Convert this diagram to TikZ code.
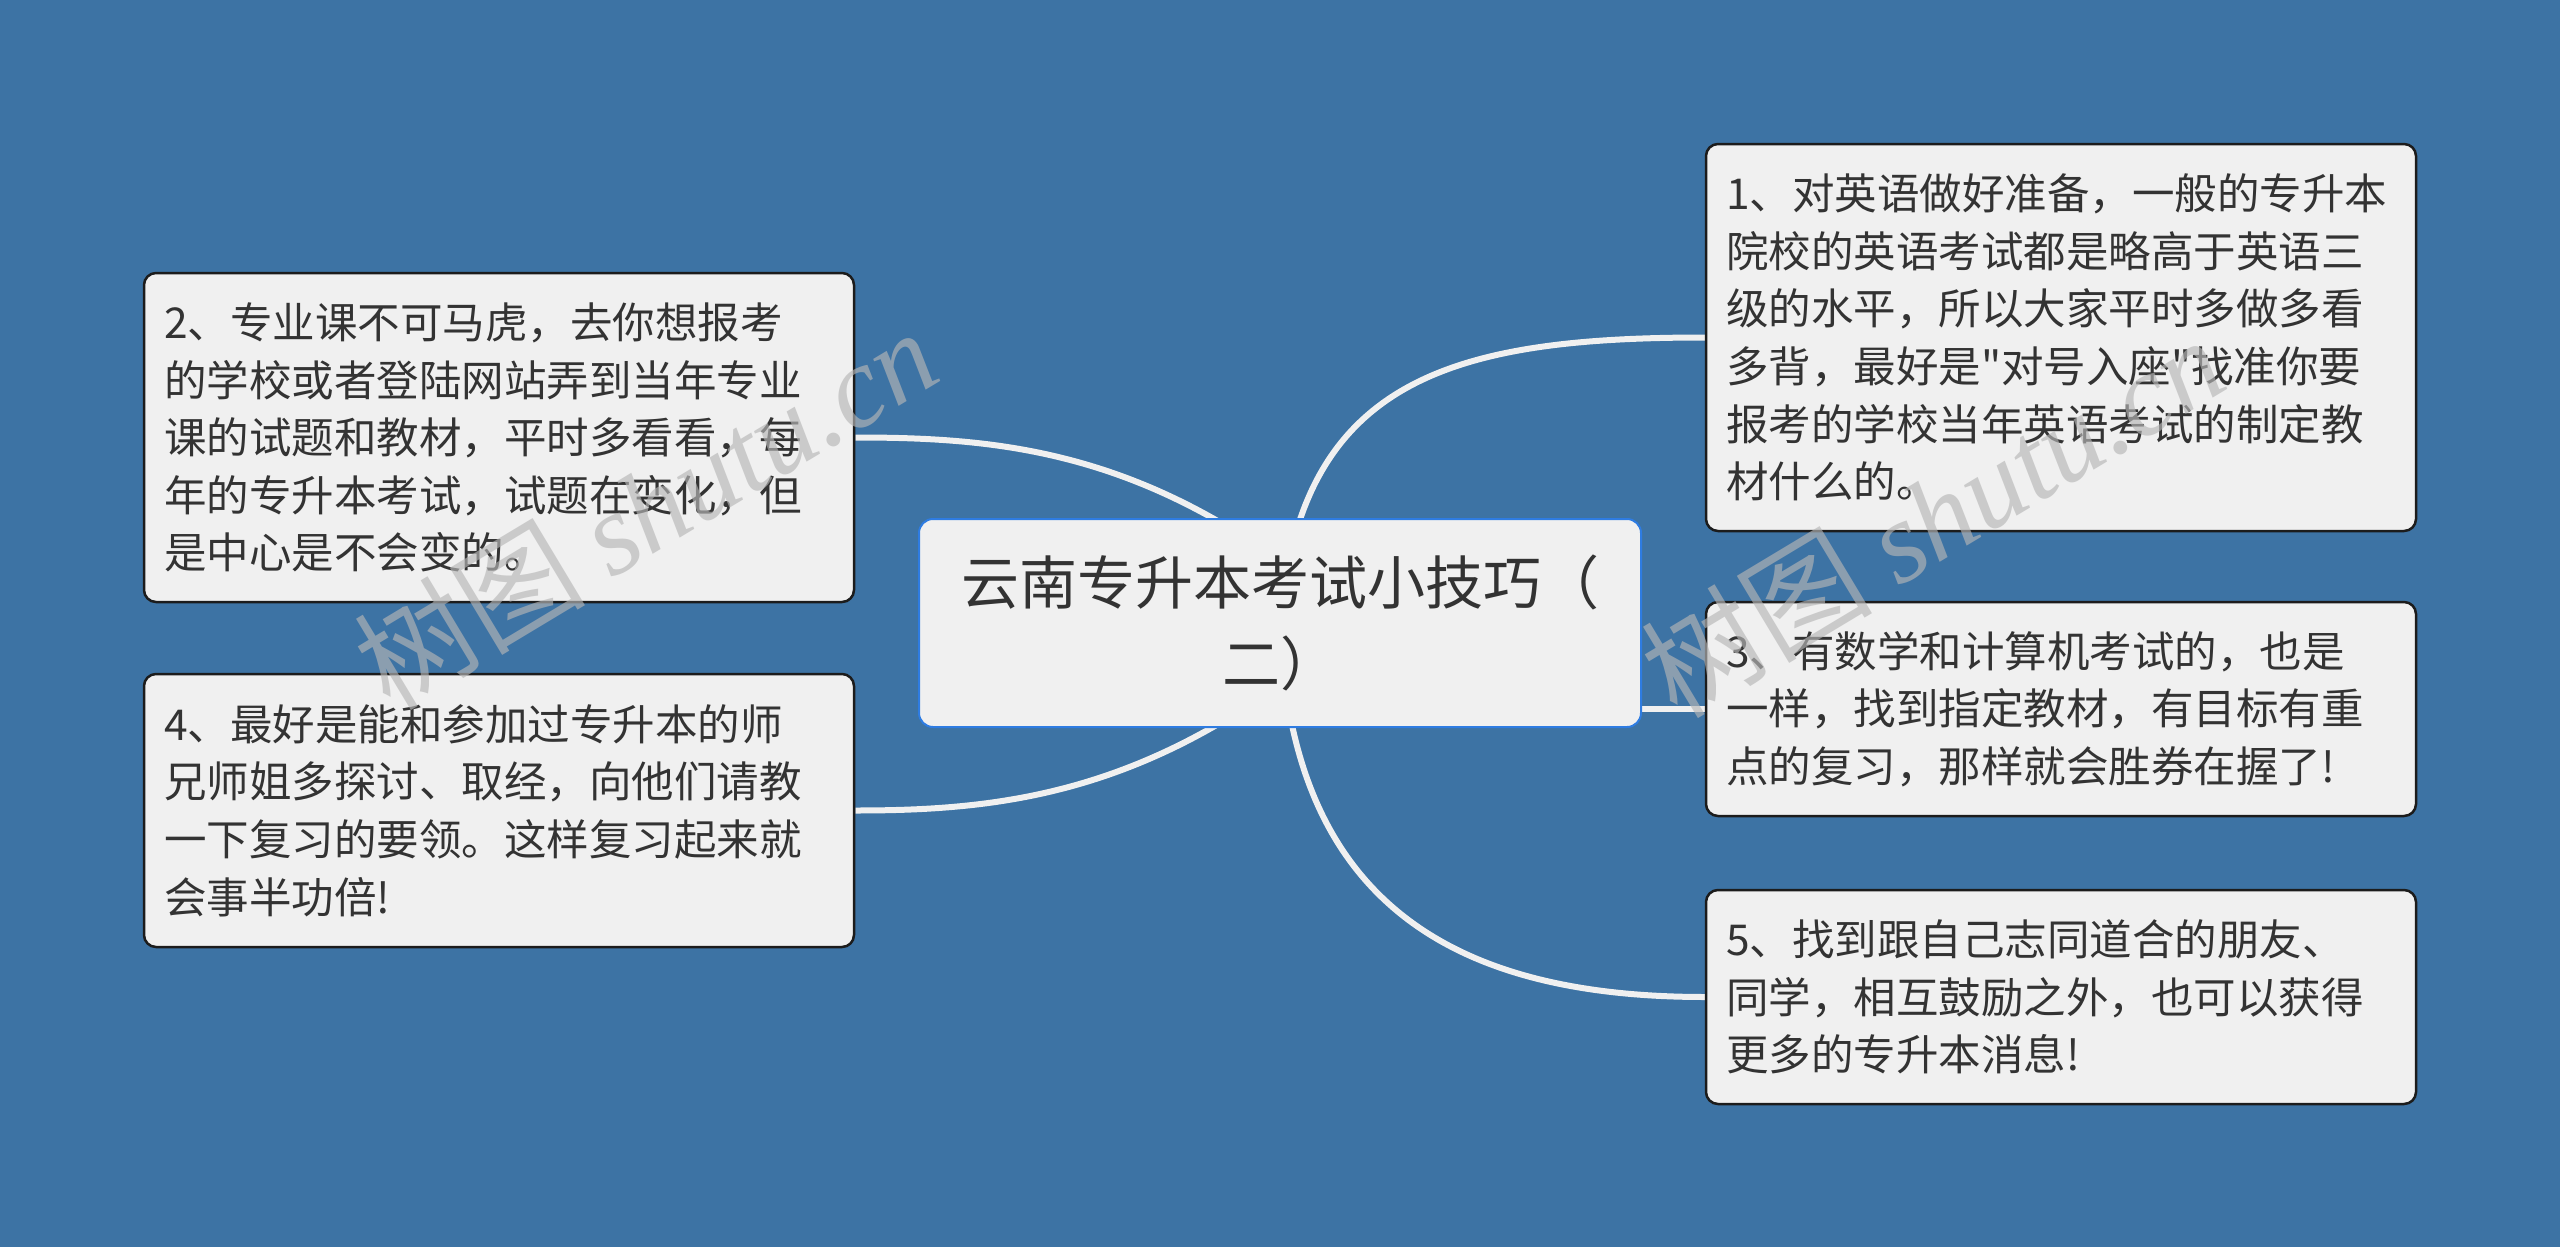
\documentclass[tikz,border=0pt]{standalone}
\usepackage{fontspec}
\newfontfamily\cjk{Noto Sans CJK SC}
\newfontfamily\wmlatin{Liberation Serif}
\usetikzlibrary{calc}
\definecolor{bgblue}{RGB}{61,115,164}
\definecolor{boxfill}{RGB}{240,240,240}
\definecolor{cborder}{RGB}{28,28,28}
\definecolor{rborder}{RGB}{46,124,226}
\definecolor{txt}{RGB}{51,51,51}
\definecolor{linkcol}{RGB}{240,240,240}
\definecolor{wmcol}{RGB}{182,182,182}
\pgfdeclarelayer{bg}
\pgfsetlayers{bg,main}
\begin{document}
\begin{tikzpicture}[x=1pt,y=-1pt,
  childbox/.style={draw=cborder, line width=2.5pt, fill=boxfill, rounded corners=12pt,
    text width=670pt, inner xsep=20pt, inner ysep=0pt, align=left, text=txt,
    font=\cjk\fontsize{42.5}{57.6}\selectfont},
  rootbox/.style={draw=rborder, line width=2pt, fill=boxfill, rounded corners=14pt,
    minimum width=722pt, minimum height=208pt, align=center, text=txt,
    font=\cjk\fontsize{58}{81.6}\selectfont},
  link/.style={draw=linkcol, line width=6pt},
  wmark/.style={text=wmcol, text opacity=0.65, rotate=31, font=\cjk\fontsize{116}{120}\selectfont}
]
\useasboundingbox (0,0) rectangle (2560,1247);
\begin{pgfonlayer}{bg}
\fill[bgblue] (0,0) rectangle (2560,1247);
\end{pgfonlayer}

\node[rootbox] (root) at (1280,623) {云南专升本考试小技巧（\\二）};

\node[childbox, minimum height=387pt] (n1) at (2061,337.5) {1、对英语做好准备，一般的专升本\\院校的英语考试都是略高于英语三\\级的水平，所以大家平时多做多看\\多背，最好是"对号入座"找准你要\\报考的学校当年英语考试的制定教\\材什么的。};
\node[childbox, minimum height=214pt] (n3) at (2061,709) {3、有数学和计算机考试的，也是\\一样，找到指定教材，有目标有重\\点的复习，那样就会胜券在握了!};
\node[childbox, minimum height=214pt] (n5) at (2061,997) {5、找到跟自己志同道合的朋友、\\同学，相互鼓励之外，也可以获得\\更多的专升本消息!};
\node[childbox, minimum height=329pt] (n2) at (499,437.5) {2、专业课不可马虎，去你想报考\\的学校或者登陆网站弄到当年专业\\课的试题和教材，平时多看看，每\\年的专升本考试，试题在变化，但\\是中心是不会变的。};
\node[childbox, minimum height=273pt] (n4) at (499,810.5) {4、最好是能和参加过专升本的师\\兄师姐多探讨、取经，向他们请教\\一下复习的要领。这样复习起来就\\会事半功倍!};

\coordinate (hubL1) at (1330,600);
\coordinate (hubL2) at (1330,645);

\begin{pgfonlayer}{bg}
\draw[link] (root.center) .. controls (1300,380) and (1450,337.5) .. (n1.west);
\draw[link] (root.center |- n3.west) -- (n3.west);
\draw[link] (root.center) .. controls (1290,900) and (1450,997) .. (n5.west);
\draw[link] (n2.east) .. controls (1000,437.5) and (1150,450) .. (hubL1);
\draw[link] (n4.east) .. controls (1000,810.5) and (1150,795) .. (hubL2);
\end{pgfonlayer}

\node[wmark] (wm1) at (645,508) {树图 {\wmlatin\itshape shutu.cn}};
\node[wmark] (wm2) at (1932,516) {树图 {\wmlatin\itshape shutu.cn}};
\end{tikzpicture}
\end{document}
